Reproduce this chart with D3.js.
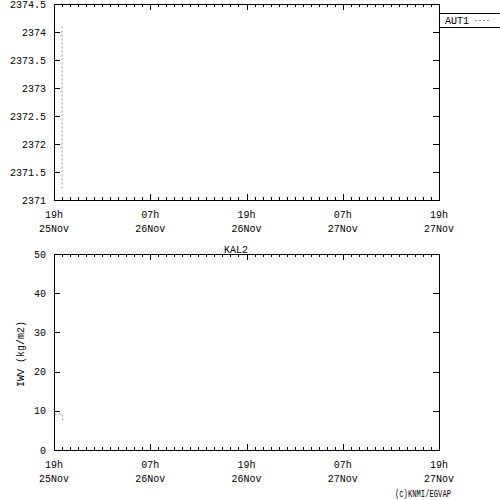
<!DOCTYPE html>
<html>
<head>
<meta charset="utf-8">
<script src="https://cdn.jsdelivr.net/npm/d3@7"></script>
<style>
  body { margin: 0; background: #fff; }
  text { font-family: "Liberation Mono", "DejaVu Sans Mono", monospace; font-size: 10px; fill: #000; }
</style>
</head>
<body>
<div id="chart"></div>
<script>
// time axis
var timeStart = "2023-11-25T19:00"
var timeEnd = "2023-11-27T19:00"

// top panel (AUT1)
var topTicks = [2371, 2371.5, 2372, 2372.5, 2373, 2373.5, 2374, 2374.5]
var topTimes = ["2023-11-25T20:00", "2023-11-25T20:00"]
var topValues = [2374.1, 2371.2]

// bottom panel (KAL2)
var bottomTicks = [0, 10, 20, 30, 40, 50]
var bottomTimes = ["2023-11-25T19:05", "2023-11-25T19:30", "2023-11-25T20:00", "2023-11-25T20:05"]
var bottomValues = [9.0, 9.1, 9.2, 7.6]

var width = 500, height = 500
var left = 54, right = 439
var parse = d3.timeParse("%Y-%m-%dT%H:%M")

var svg = d3.select("#chart")
  .append("svg")
  .attr("width", width)
  .attr("height", height)

var xScale = d3.scaleTime()
  .domain([parse(timeStart), parse(timeEnd)])
  .range([left, right])

function panel(top, bottom, domain, ticks, fmt, times, values) {
  var yScale = d3.scaleLinear().domain(domain).range([bottom, top])
  var g = svg.append("g")

  // hourly minor ticks, 12-hourly major, on bottom and top edges
  var hours = d3.timeHour.every(1).range(xScale.domain()[0], d3.timeHour.offset(xScale.domain()[1], 1))
  g.selectAll(".minor-b")
    .data(hours)
    .enter()
    .append("line")
    .attr("x1", d => Math.round(xScale(d)) + 0.5)
    .attr("x2", d => Math.round(xScale(d)) + 0.5)
    .attr("y1", bottom)
    .attr("y2", d => bottom - (d.getHours() % 12 === 7 ? 6 : 3))
    .attr("stroke", "black")
  g.selectAll(".minor-t")
    .data(hours)
    .enter()
    .append("line")
    .attr("x1", d => Math.round(xScale(d)) + 0.5)
    .attr("x2", d => Math.round(xScale(d)) + 0.5)
    .attr("y1", top)
    .attr("y2", d => top + (d.getHours() % 12 === 7 ? 6 : 3))
    .attr("stroke", "black")

  var major = hours.filter(d => d.getHours() % 12 === 7)
  g.selectAll(".xlab1")
    .data(major)
    .enter()
    .append("text")
    .attr("x", d => xScale(d))
    .attr("y", bottom + 18)
    .attr("text-anchor", "middle")
    .text(d3.timeFormat("%Hh"))
  g.selectAll(".xlab2")
    .data(major)
    .enter()
    .append("text")
    .attr("x", d => xScale(d))
    .attr("y", bottom + 32)
    .attr("text-anchor", "middle")
    .text(d3.timeFormat("%d%b"))

  // y ticks left and right
  g.selectAll(".yt")
    .data(ticks)
    .enter()
    .append("line")
    .attr("x1", left)
    .attr("x2", left + 6)
    .attr("y1", d => Math.round(yScale(d)) + 0.5)
    .attr("y2", d => Math.round(yScale(d)) + 0.5)
    .attr("stroke", "black")
  g.selectAll(".ytr")
    .data(ticks)
    .enter()
    .append("line")
    .attr("x1", right)
    .attr("x2", right - 6)
    .attr("y1", d => Math.round(yScale(d)) + 0.5)
    .attr("y2", d => Math.round(yScale(d)) + 0.5)
    .attr("stroke", "black")
  g.selectAll(".ylab")
    .data(ticks)
    .enter()
    .append("text")
    .attr("x", left - 8)
    .attr("y", d => yScale(d) + 3.5)
    .attr("text-anchor", "end")
    .text(fmt)

  // frame
  g.append("rect")
    .attr("x", left + 0.5)
    .attr("y", top + 0.5)
    .attr("width", right - left)
    .attr("height", bottom - top)
    .attr("fill", "none")
    .attr("stroke", "black")

  // data
  var pts = times.map((t, i) => [parse(t), values[i]])
  g.append("path")
    .datum(pts)
    .attr("d", d3.line().x(d => xScale(d[0])).y(d => yScale(d[1])))
    .attr("fill", "none")
    .attr("stroke", "#999")
    .attr("stroke-dasharray", "2,2")
  return g
}

panel(4, 200, [2371, 2374.5], topTicks, d => d, topTimes, topValues)
panel(254, 450, [0, 50], bottomTicks, d => d, bottomTimes, bottomValues)

// legend box for AUT1
svg.append("rect")
  .attr("x", 439.5)
  .attr("y", 13.5)
  .attr("width", 70)
  .attr("height", 14)
  .attr("fill", "white")
  .attr("stroke", "black")
svg.append("text")
  .attr("x", 445)
  .attr("y", 24)
  .text("AUT1")
svg.append("line")
  .attr("x1", 475)
  .attr("x2", 489)
  .attr("y1", 20.5)
  .attr("y2", 20.5)
  .attr("stroke", "#999")
  .attr("stroke-dasharray", "2,2")

// title of lower panel
svg.append("text")
  .attr("x", 236)
  .attr("y", 253)
  .attr("text-anchor", "middle")
  .text("KAL2")

// y label
svg.append("text")
  .attr("transform", "translate(24,354) rotate(-90)")
  .attr("text-anchor", "middle")
  .text("IWV (kg/m2)")

svg.append("text")
  .attr("x", 395)
  .attr("y", 497)
  .attr("textLength", 56)
  .attr("lengthAdjust", "spacingAndGlyphs")
  .text("(c)KNMI/EGVAP")
</script>
</body>
</html>
